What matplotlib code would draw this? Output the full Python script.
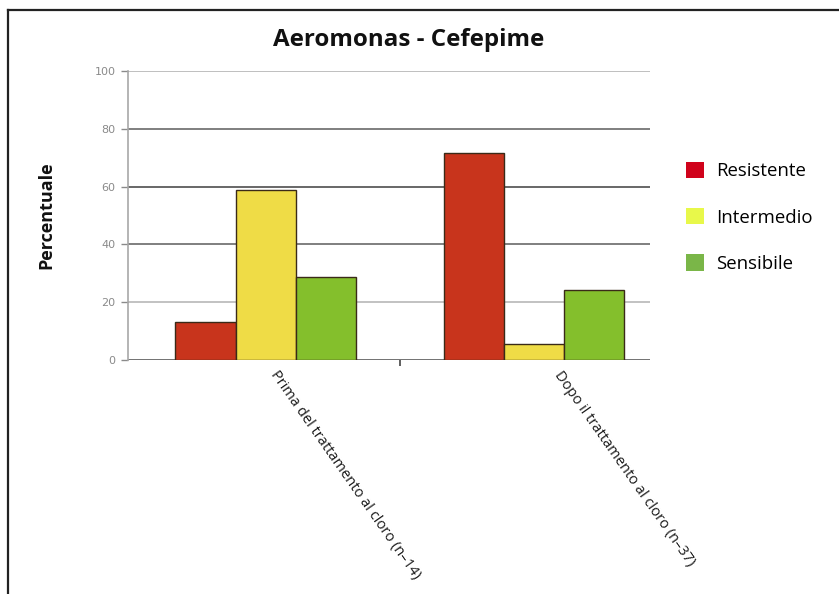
import matplotlib
matplotlib.use("Agg")
import matplotlib.pyplot as plt
from matplotlib.lines import Line2D
from matplotlib.patches import Patch
from matplotlib.transforms import ScaledTranslation
import numpy as np

plt.rcParams["font.family"] = ["Open Sans", "DejaVu Sans"]

# data: percentage of isolates per susceptibility class
groups = ["Prima del trattamento al cloro (n–14)", "Dopo il trattamento al cloro (n–37)"]
classes = ["Resistente", "Intermedio", "Sensibile"]
resistente = [13.2, 71.6]
intermedio = [58.8, 5.4]
sensibile = [28.8, 24.2]
yticks = [0, 20, 40, 60, 80, 100]

BAR_COLORS = ["#c8341c", "#efdc46", "#84bf2c"]
LEG_COLORS = ["#d0021b", "#e8f84a", "#7ab648"]
GRID_COLORS = ["#5a5a5a", "#b8b8b8", "#6a6a6a", "#4e4e4e", "#6a6a6a", "#b4b4b4"]

fig = plt.figure(figsize=(8.39, 5.94), dpi=100)
fig.patch.set_facecolor("white")
ax = fig.add_axes([0.1526, 0.394, 0.6222, 0.4865])

# outer frame (top and left edges only)
fig.add_artist(Line2D([8 / 839, 1.0], [1 - 10 / 594, 1 - 10 / 594], transform=fig.transFigure,
                      color="#222222", lw=1.6))
fig.add_artist(Line2D([8 / 839, 8 / 839], [1 - 10 / 594, 0.0], transform=fig.transFigure,
                      color="#222222", lw=1.6))

# horizontal gridlines
for v, c in zip(yticks, GRID_COLORS):
    ax.axhline(v, color=c, lw=1.2, zorder=1)

x = np.arange(len(groups))
w = 0.2235
for i, (vals, col) in enumerate(zip([resistente, intermedio, sensibile], BAR_COLORS)):
    ax.bar(x + (i - 1) * w, vals, width=w, color=col, edgecolor="#3a2a18", linewidth=1.0, zorder=3)

ax.set_xlim(-0.512, 1.432)
ax.set_ylim(0, 100)
ax.set_yticks(yticks)
ax.set_yticklabels([str(v) for v in yticks], fontsize=8, color="#8a8a8a", family="DejaVu Sans")
ax.tick_params(axis="y", length=5, width=1, color="#8a8a8a", pad=4)

ax.set_xticks(x)
ax.set_xticklabels(groups, rotation=-55, ha="left", va="top", rotation_mode="anchor",
                   fontsize=10.5, color="#1a1a1a")
ax.tick_params(axis="x", length=0, pad=6)
# nudge the slanted labels to the right of their group
for lbl, dx in zip(ax.get_xticklabels(), [14, 29]):
    lbl.set_transform(lbl.get_transform() + ScaledTranslation(dx / 100, 0, fig.dpi_scale_trans))
ax.set_xticks([0.5], minor=True)
ax.tick_params(axis="x", which="minor", length=4, width=1.2, color="#444444")

for sp in ("top", "right", "bottom"):
    ax.spines[sp].set_visible(False)
ax.spines["left"].set_color("#a8a8a8")
ax.spines["left"].set_linewidth(1.2)
ax.set_facecolor("none")

ax.set_ylabel("Percentuale", fontsize=13, fontweight="bold", color="#111111", labelpad=28)

fig.text(409 / 839, 1 - 40 / 594, "Aeromonas - Cefepime", ha="center", va="center",
         fontsize=17.4, fontweight="bold", color="#111111")

handles = [Patch(facecolor=c, edgecolor="none") for c in LEG_COLORS]
fig.legend(handles, classes, loc="upper left", bbox_to_anchor=(680 / 839, 1 - 156 / 594),
           frameon=False, fontsize=13.4, handlelength=0.97, handleheight=0.97,
           handletextpad=0.66, labelspacing=1.5, borderaxespad=0, borderpad=0.3)

fig.savefig("out.png", dpi=100, facecolor="white")
